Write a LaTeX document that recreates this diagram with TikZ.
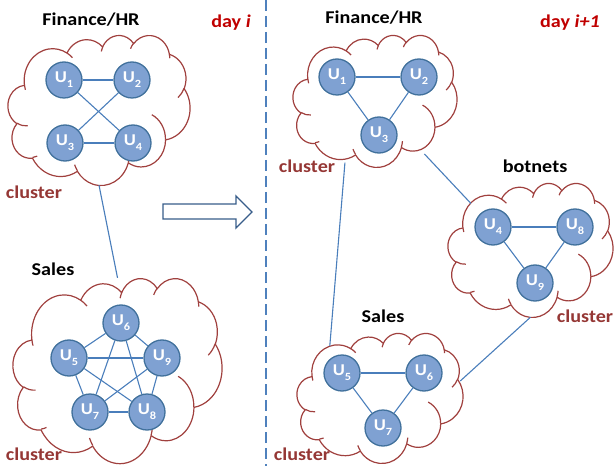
\documentclass[tikz,border=0pt]{standalone}
\usepackage{fontspec}
\setmainfont{Carlito}[FakeStretch=1.12]
\usetikzlibrary{shapes.geometric,backgrounds}

\definecolor{userfill}{HTML}{7FA1D2}
\definecolor{userline}{HTML}{41719C}
\definecolor{linkblue}{HTML}{4A7EBB}
\definecolor{cloudred}{HTML}{A0403E}
\definecolor{clustertxt}{HTML}{953735}
\definecolor{dayred}{HTML}{C00000}
\definecolor{arrowblue}{HTML}{385D8A}
\definecolor{splitblue}{HTML}{4F81BD}

\newcommand{\usr}[1]{U\raisebox{-5pt}{\fontsize{11}{12}\selectfont #1}}

% elliptical arc given by its visual start angle and sweep
\pgfmathdeclarefunction{pptvis}{3}{%
  \begingroup
  \pgfmathparse{atan2((#1)*sin(#3),(#2)*cos(#3))}%
  \pgfmathsmuggle\pgfmathresult
  \endgroup}
\pgfmathdeclarefunction{pptspan}{4}{%
  \begingroup
  \pgfmathparse{mod(pptvis(#1,#2,#3+#4)-pptvis(#1,#2,#3)+720,360)}%
  \pgfmathsmuggle\pgfmathresult
  \endgroup}

\tikzset{
  pptarc/.style n args={4}{start angle={pptvis(#1,#2,#3)},
    delta angle={pptspan(#1,#2,#3,#4)}, x radius=#1, y radius=#2},
  user/.style={circle, draw=userline, fill=userfill, line width=1.3pt,
    minimum size=36pt, inner sep=0pt, text=white,
    font=\fontsize{16.5}{18}\selectfont\bfseries},
  link/.style={draw=linkblue, line width=1.1pt},
  hlink/.style={draw=linkblue, line width=1.6pt},
  cloudline/.style={draw=cloudred, line width=1.2pt},
  cloudanchor/.style={ellipse, inner sep=0pt, draw=none},
  title/.style={font=\fontsize{18}{20}\selectfont\bfseries},
  daylabel/.style={text=dayred, font=\fontsize{18}{20}\selectfont\bfseries},
  clusterlabel/.style={text=clustertxt, font=\fontsize{18}{20}\selectfont\bfseries},
}

% cloud outline: name, left, top, width, height
\newcommand{\mscloud}[5]{%
  \node[cloudanchor, minimum width=#4pt, minimum height=#5pt] (#1)
    at ({#2+#4/2},{#3+#5/2}) {};
  \pgfmathsetmacro\cux{#4/43.2}%
  \pgfmathsetmacro\cuy{#5/43.2}%
  \begin{scope}[shift={(#2,#3)}, x=\cux pt, y=-\cuy pt]
    \draw[cloudline] (3.900,14.370)
      arc[pptarc={6.753}{9.190}{-190.4875}{123.7805}]
      arc[pptarc={5.333}{7.267}{-144.1024}{89.9452}]
      arc[pptarc={4.365}{5.945}{-145.8079}{99.7230}]
      arc[pptarc={4.857}{6.595}{-130.9861}{117.2417}]
      arc[pptarc={5.333}{7.273}{-78.7089}{109.0269}]
      arc[pptarc={6.775}{9.220}{-46.2673}{130.2690}]
      arc[pptarc={5.785}{7.867}{0.6250}{114.0333}]
      arc[pptarc={6.752}{9.215}{22.4516}{115.1726}]
      arc[pptarc={7.720}{10.543}{66.2426}{75.7110}]
      arc[pptarc={4.360}{5.918}{-274.9421}{146.7356}]
      arc[pptarc={4.345}{5.945}{-246.8285}{152.5189}]
      -- cycle;
    \draw[cloudline]
      (4.693,26.177) arc[pptarc={4.345}{5.945}{86.7420}{26.4295}]
      (6.928,34.899) arc[pptarc={4.360}{5.918}{73.6105}{11.4475}]
      (16.478,39.090) arc[pptarc={6.752}{9.215}{137.6242}{14.0811}]
      (28.827,34.751) arc[pptarc={6.752}{9.215}{6.4533}{15.9984}]
      (34.129,22.954) arc[pptarc={5.785}{7.867}{-70.2924}{70.9174}]
      (41.798,15.354) arc[pptarc={5.333}{7.273}{30.3180}{27.7515}]
      (38.324,5.426) arc[pptarc={4.857}{6.595}{-13.7443}{14.8589}]
      (29.078,3.952) arc[pptarc={4.857}{6.595}{-149.1815}{18.1954}]
      (22.141,4.720) arc[pptarc={4.365}{5.945}{-163.4943}{17.6864}]
      (14.000,5.192) arc[pptarc={6.753}{9.190}{-66.7070}{12.3194}]
      (4.127,15.789) arc[pptarc={6.753}{9.190}{157.6544}{11.8582}];
  \end{scope}}

\begin{document}
\begin{tikzpicture}[x=1pt, y=-1pt]
\useasboundingbox (0,0) rectangle (615,470);

% separator between the two days
\draw[splitblue, line width=1.3pt, dash pattern=on 11pt off 5pt] (266,0) -- (266,466);

% ---------------- day i ----------------
\node[title] (finA) at (91,20) {Finance/HR};
\node[daylabel] (dayA) at (231,23) {day \textit{i}};
\node[title] (salesA) at (53,269) {Sales};
\node[clusterlabel] (clA1) at (34,192) {cluster};
\node[clusterlabel] (clA2) at (34,454) {cluster};

\node[user] (a1) at (64,80) {\usr{1}};
\node[user] (a2) at (132,80) {\usr{2}};
\node[user] (a3) at (65,143) {\usr{3}};
\node[user] (a4) at (133,143) {\usr{4}};

\node[user] (a6) at (121,323) {\usr{6}};
\node[user] (a5) at (69,358) {\usr{5}};
\node[user] (a9) at (162,358) {\usr{9}};
\node[user] (a7) at (90,412) {\usr{7}};
\node[user] (a8) at (147,412) {\usr{8}};

% block arrow from day i to day i+1
\draw[arrowblue, line width=1.3pt, fill=white, line join=miter]
  (163,204) -- (236,204) -- (236,196) -- (252,212) -- (236,228)
  -- (236,219) -- (163,219) -- cycle;

% ---------------- day i+1 ----------------
\node[title] (finB) at (374,18) {Finance/HR};
\node[daylabel] (dayB) at (570,23) {day \textit{i+1}};
\node[title] (botB) at (535,166) {botnets};
\node[title] (salesB) at (383,316) {Sales};
\node[clusterlabel] (clB1) at (307,166) {cluster};
\node[clusterlabel] (clB2) at (585,316) {cluster};
\node[clusterlabel] (clB3) at (302,454) {cluster};

\node[user] (b1) at (337,77) {\usr{1}};
\node[user] (b2) at (419,77) {\usr{2}};
\node[user] (b3) at (379,135) {\usr{3}};

\node[user] (b4) at (493,227) {\usr{4}};
\node[user] (b8) at (575,227) {\usr{8}};
\node[user] (b9) at (535,283) {\usr{9}};

\node[user] (b5) at (342,373) {\usr{5}};
\node[user] (b6) at (424,373) {\usr{6}};
\node[user] (b7) at (383,428) {\usr{7}};

\begin{pgfonlayer}{background}
% the clusters
\mscloud{cfA}{8}{35}{182}{150}
\mscloud{csA}{13}{278}{209}{185}
\mscloud{cfB}{293}{35}{164}{132}
\mscloud{cbB}{448}{183}{165}{134}
\mscloud{csB}{297}{333}{166}{130}

% links between clusters
\draw[link] (cfA.south) -- (csA.north);
\draw[link] (cfB.-116) -- (csB.134);
\draw[link] (cfB.-47) -- (cbB.142);
\draw[link] (cbB.south) -- (csB.12);

% links inside the clusters
\draw[hlink] (a1) -- (a2);
\draw[hlink] (a3) -- (a4);
\draw[link] (a1) -- (a4);
\draw[link] (a2) -- (a3);

\draw[hlink] (a5) -- (a9);
\draw[hlink] (a7) -- (a8);
\draw[link] (a6) -- (a5);
\draw[link] (a6) -- (a9);
\draw[link] (a6) -- (a7);
\draw[link] (a6) -- (a8);
\draw[link] (a5) -- (a7);
\draw[link] (a5) -- (a8);
\draw[link] (a9) -- (a7);
\draw[link] (a9) -- (a8);

\draw[hlink] (b1) -- (b2);
\draw[link] (b1) -- (b3);
\draw[link] (b2) -- (b3);

\draw[hlink] (b4) -- (b8);
\draw[link] (b4) -- (b9);
\draw[link] (b8) -- (b9);

\draw[hlink] (b5) -- (b6);
\draw[link] (b5) -- (b7);
\draw[link] (b6) -- (b7);
\end{pgfonlayer}
\end{tikzpicture}
\end{document}
